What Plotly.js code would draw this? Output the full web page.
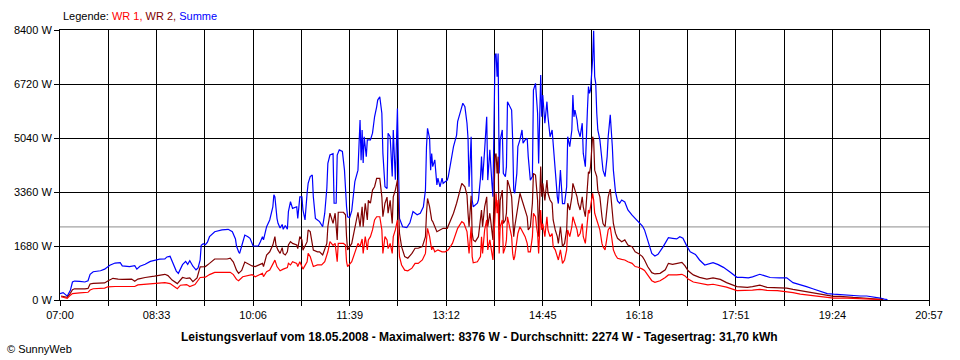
<!DOCTYPE html>
<html>
<head>
<meta charset="utf-8">
<script src="https://cdn.plot.ly/plotly-3.0.1.min.js"></script>
<style>html,body{margin:0;padding:0;background:#fff;}#chart{width:960px;height:360px;}</style>
</head>
<body>
<div id="chart"></div>
<script>
// ---------- data ----------
const day = '2008-05-18';
const xTickLabels = ['07:00','08:33','10:06','11:39','13:12','14:45','16:18','17:51','19:24','20:57'];
const yTicks = [0, 1680, 3360, 5040, 6720, 8400];
const averageW = 2274;

const summeTime = [
'07:00','07:03','07:07','07:10','07:12','07:14','07:19','07:24','07:27','07:29',
'07:32','07:39','07:43','07:48','07:53','07:58','08:00','08:07','08:12','08:14',
'08:17','08:22','08:27','08:31','08:36','08:41','08:43','08:46','08:49','08:52',
'08:54','08:58','09:01','09:03','09:05','09:08','09:11','09:13','09:15','09:16',
'09:18','09:20','09:22','09:24','09:29','09:36','09:42','09:46','09:49','09:50',
'09:52','09:53','09:55','09:58','10:01','10:03','10:06','10:11','10:13','10:15',
'10:16','10:19','10:22','10:25','10:26','10:27','10:29','10:30','10:32','10:34',
'10:35','10:37','10:39','10:40','10:42','10:44','10:48','10:49','10:51','10:53',
'10:54','10:56','10:58','10:59','11:01','11:03','11:04','11:06','11:08','11:10',
'11:13','11:15','11:17','11:18','11:20','11:23','11:24','11:26','11:27','11:29',
'11:32','11:34','11:36','11:37','11:39','11:41','11:44','11:47','11:49','11:50',
'11:51','11:52','11:53','11:55','11:56','11:59','12:01','12:03','12:05','12:06',
'12:08','12:10','12:11','12:13','12:15','12:16','12:18','12:20','12:21','12:23',
'12:25','12:26','12:27','12:30','12:34','12:37','12:40','12:44','12:47','12:50',
'12:52','12:53','12:54','12:56','12:57','12:58','12:59','13:01','13:03','13:04',
'13:06','13:08','13:09','13:11','13:13','13:14','13:16','13:19','13:22','13:23',
'13:27','13:28','13:30','13:32','13:33','13:34','13:36','13:37','13:38','13:42',
'13:43','13:45','13:46','13:47','13:49','13:51','13:52','13:54','13:56','13:57',
'13:59','14:00','14:01','14:02','14:03','14:04','14:06','14:07','14:09','14:10',
'14:11','14:13','14:15','14:16','14:17','14:18','14:20','14:21','14:23','14:25',
'14:26','14:28','14:30','14:31','14:33','14:35','14:36','14:38','14:39','14:40',
'14:41','14:43','14:44','14:45','14:47','14:49','14:50','14:52','14:54','14:55',
'14:57','14:59','15:00','15:02','15:04','15:06','15:08','15:09','15:11','15:13',
'15:14','15:15','15:16','15:18','15:19','15:21','15:23','15:24','15:26','15:28',
'15:29','15:30','15:31','15:33','15:34','15:35','15:36','15:37','15:38','15:40',
'15:42','15:43','15:45','15:47','15:48','15:50','15:52','15:53','15:55','15:57',
'15:59','16:01','16:04','16:07','16:11','16:14','16:17','16:21','16:23','16:26',
'16:30','16:33','16:36','16:41','16:46','16:50','16:54','16:57','17:00','17:04',
'17:07','17:12','17:16','17:21','17:26','17:29','17:34','17:39','17:45','17:52',
'17:57','18:03','18:07','18:14','18:19','18:24','18:33','18:40','18:46','18:53',
'18:59','19:05','19:12','19:19','19:25','19:31','19:38','19:44','19:51','19:57',
'20:03','20:07','20:10','20:14','20:17'];
const summe = [
200,230,120,300,560,590,580,560,600,800,
880,910,960,1080,1150,1160,1060,1040,1070,960,
1050,1110,1200,1230,1270,1280,1340,1360,1150,900,
830,1100,1200,1110,1220,1050,940,1000,1250,1700,
1750,1720,1800,1970,2125,2180,2200,2125,1900,1680,
1500,1450,1680,2020,1970,1920,1680,1680,1815,1970,
1870,2280,2490,2900,3270,3210,2540,2385,2240,2350,
2200,2320,2200,2750,3060,2850,2900,2540,3210,3210,
2800,2490,3320,3630,3840,3890,3210,2540,2490,2440,
2280,2700,3475,4250,4510,4550,3010,3010,4510,4670,
4620,4040,2900,2590,2560,2780,3680,4040,5600,4350,
5290,4260,5080,4460,4980,4980,5190,5700,6010,6220,
6325,5810,4570,3525,3470,5190,5080,3840,5290,3740,
5960,3420,2540,2280,2250,2400,2750,2650,2700,2900,
3420,4770,5340,5030,4040,4560,4150,4360,3580,3790,
3520,3790,3630,3680,3730,3840,4250,4770,5130,5550,
6010,6120,6010,5500,5030,3525,5080,3110,2900,3010,
3110,3800,4460,3730,4670,5700,3730,4670,3630,3215,
7600,7670,6950,7670,3940,4980,5290,3940,3840,4150,
6170,6010,5910,4980,3420,3320,3940,4770,4980,5290,
4880,4980,5030,4460,3730,3840,6530,6740,6325,5810,
4250,7000,5700,6380,5500,6170,5700,5080,5290,4770,
4040,3210,3000,4040,3000,3000,3525,5080,4770,5290,
6380,5700,5910,5600,5290,5080,5500,4560,4150,5910,
6640,6430,6540,7470,8376,6950,6740,5810,5290,4980,
4250,4040,3840,4460,5080,5760,4770,4040,3370,3080,
3010,3110,3050,2800,2640,2540,2430,2300,2180,1870,
1450,1370,1420,1660,1940,1920,1900,1970,1920,1660,
1500,1420,1245,1090,1120,1160,1100,1015,880,705,
705,690,720,800,750,700,690,690,540,480,
415,350,265,200,180,165,140,130,125,125,
105,80,60,30,10];

const wr2Time = [
'07:01','07:03','07:07','07:10','07:12','07:14','07:19','07:24','07:27','07:29',
'07:32','07:39','07:43','07:46','07:51','07:56','08:00','08:09','08:12','08:15',
'08:22','08:31','08:41','08:44','08:48','08:53','08:56','08:58','09:02','09:05',
'09:08','09:12','09:15','09:20','09:24','09:29','09:41','09:44','09:47','09:50',
'09:52','09:55','09:58','10:01','10:05','10:08','10:11','10:15','10:16','10:19',
'10:22','10:25','10:27','10:28','10:30','10:32','10:34','10:35','10:37','10:39',
'10:40','10:42','10:44','10:48','10:49','10:51','10:53','10:54','10:58','10:59',
'11:01','11:04','11:08','11:10','11:13','11:17','11:18','11:20','11:23','11:25',
'11:27','11:28','11:33','11:35','11:36','11:37','11:41','11:44','11:47','11:49',
'11:51','11:52','11:54','11:56','11:57','11:59','12:01','12:03','12:05','12:08',
'12:10','12:11','12:13','12:15','12:16','12:18','12:20','12:21','12:23','12:25',
'12:26','12:27','12:29','12:32','12:35','12:39','12:42','12:45','12:49','12:52',
'12:53','12:54','12:56','12:58','12:59','13:01','13:03','13:06','13:09','13:13',
'13:16','13:19','13:22','13:25','13:27','13:30','13:32','13:33','13:34','13:36',
'13:37','13:38','13:40','13:43','13:45','13:46','13:47','13:49','13:51','13:52',
'13:54','13:56','13:57','13:59','14:00','14:01','14:02','14:03','14:04','14:06',
'14:07','14:09','14:10','14:11','14:13','14:15','14:16','14:17','14:18','14:20',
'14:21','14:23','14:25','14:26','14:28','14:30','14:31','14:33','14:35','14:36',
'14:38','14:39','14:40','14:41','14:43','14:44','14:45','14:47','14:49','14:50',
'14:52','14:54','14:55','14:57','14:59','15:00','15:02','15:04','15:06','15:08',
'15:09','15:11','15:13','15:14','15:16','15:18','15:19','15:21','15:23','15:24',
'15:26','15:28','15:29','15:30','15:31','15:33','15:34','15:35','15:37','15:38',
'15:40','15:42','15:43','15:45','15:47','15:48','15:50','15:52','15:53','15:55',
'15:57','16:01','16:04','16:07','16:11','16:14','16:17','16:21','16:23','16:26',
'16:30','16:33','16:38','16:43','16:46','16:50','16:54','16:59','17:02','17:05',
'17:10','17:16','17:23','17:29','17:36','17:42','17:52','18:02','18:07','18:14',
'18:21','18:31','18:40','18:46','18:53','19:02','19:12','19:19','19:25','19:31',
'19:38','19:44','19:51','20:00','20:07','20:13'];
const wr2 = [
125,110,80,210,320,350,340,345,360,500,
520,530,530,590,675,650,640,650,580,650,
700,740,800,760,620,510,640,700,670,690,
570,690,1030,1040,1140,1275,1275,1300,1180,930,
830,920,1180,1120,1060,1040,1080,1140,1040,1400,
1500,1710,1970,1710,1550,1450,1630,1450,1400,1500,
1710,1815,1760,1710,1600,1970,1870,1550,1815,2180,
2130,1550,1500,1500,1400,1760,2280,2700,2385,2700,
1870,2730,2730,2650,1970,1555,1760,2280,2730,2280,
2900,2280,3010,2490,3100,3010,3420,3525,3785,3785,
3210,2590,3010,3200,2700,3100,2380,3210,3420,3730,
2800,2075,1660,1350,1300,1450,1610,1610,1660,1970,
2700,3160,2900,2490,2440,2280,2125,2180,2230,2230,
2440,2700,3010,3350,3630,3520,3260,2700,2280,3240,
2070,1870,1820,1970,2500,2800,2280,2900,3210,2280,
2700,2070,1870,4460,4560,3940,4460,2180,3110,3420,
2380,2490,2700,3730,3520,3210,2590,1970,2280,2700,
2900,3320,3110,3010,2800,2590,2180,2280,3010,3940,
3890,3520,3100,1970,4150,3210,3630,3100,3730,3320,
3110,3010,2490,2180,1970,1760,2280,1660,1760,2180,
3010,2800,3210,3630,3420,3210,3010,2800,3210,2900,
2590,3630,3990,3940,4150,5080,4980,4040,3840,3420,
3210,2590,2380,2280,3010,3210,3450,2800,2380,2080,
1920,1815,1870,1710,1660,1500,1450,1350,1245,1040,
850,810,830,940,1140,1110,1140,1170,1060,910,
780,705,650,690,640,540,415,395,415,460,
395,385,370,330,290,230,180,130,115,115,
90,80,70,60,30,10];

const wr1Time = [
'07:01','07:03','07:07','07:10','07:12','07:19','07:27','07:29','07:32','07:43',
'07:46','07:53','08:12','08:15','08:27','08:33','08:41','08:46','08:49','08:53',
'08:56','09:02','09:05','09:10','09:15','09:20','09:24','09:29','09:44','09:47',
'09:50','09:52','09:56','10:00','10:05','10:08','10:11','10:15','10:16','10:19',
'10:22','10:25','10:27','10:29','10:32','10:35','10:39','10:40','10:42','10:44',
'10:48','10:49','10:51','10:54','10:58','10:59','11:01','11:04','11:08','11:12',
'11:15','11:18','11:20','11:23','11:25','11:27','11:28','11:33','11:35','11:36',
'11:37','11:41','11:44','11:47','11:49','11:51','11:52','11:54','11:56','11:57',
'11:59','12:01','12:03','12:05','12:08','12:10','12:11','12:13','12:15','12:16',
'12:18','12:20','12:21','12:23','12:25','12:26','12:27','12:29','12:32','12:35',
'12:39','12:42','12:45','12:49','12:52','12:53','12:54','12:56','12:58','12:59',
'13:01','13:04','13:08','13:11','13:14','13:18','13:20','13:23','13:27','13:29',
'13:32','13:33','13:34','13:36','13:37','13:38','13:42','13:45','13:46','13:47',
'13:49','13:51','13:52','13:54','13:56','13:57','14:00','14:01','14:02','14:03',
'14:04','14:06','14:07','14:09','14:10','14:11','14:13','14:15','14:16','14:17',
'14:18','14:20','14:21','14:23','14:26','14:28','14:30','14:31','14:33','14:35',
'14:36','14:38','14:39','14:40','14:41','14:43','14:44','14:45','14:47','14:49',
'14:50','14:52','14:54','14:55','14:57','14:59','15:00','15:02','15:04','15:06',
'15:08','15:09','15:11','15:13','15:14','15:16','15:18','15:19','15:21','15:23',
'15:24','15:26','15:28','15:29','15:30','15:31','15:33','15:34','15:35','15:37',
'15:38','15:40','15:42','15:43','15:45','15:47','15:48','15:50','15:52','15:53',
'15:55','15:57','16:01','16:04','16:07','16:11','16:14','16:17','16:21','16:23',
'16:26','16:30','16:33','16:38','16:43','16:46','16:54','16:59','17:02','17:05',
'17:10','17:16','17:24','17:29','17:36','17:42','17:52','18:02','18:07','18:14',
'18:21','18:31','18:40','18:46','18:53','19:02','19:12','19:19','19:25','19:38',
'19:46','19:53','20:03','20:10'];
const wr1 = [
100,90,50,150,200,220,240,310,350,370,
410,420,420,470,500,520,540,510,430,350,
460,480,420,480,700,710,790,860,860,790,
640,600,725,760,790,725,760,830,725,880,
930,1140,1240,1040,910,960,1010,1140,1090,1190,
1140,1040,1190,960,1190,1450,1350,1040,1090,1090,
1190,1500,1815,1700,1760,1190,1760,1760,1710,1190,
1040,1190,1450,1760,1660,1900,1450,1970,1555,1870,
1970,2180,2490,2590,2590,2180,1450,1970,1870,1600,
1760,1450,1970,2180,2490,1760,1350,1090,930,910,
990,1140,1140,1245,1450,1870,2230,1970,1560,1660,
1500,1560,1500,1500,1560,1760,1970,2230,2440,2390,
2130,1870,1450,2280,1350,1160,1190,1350,1970,1450,
2180,2490,1560,1870,1450,1245,3320,2700,3110,1450,
2280,2490,1450,1660,1870,2590,2280,1970,1450,1245,
1350,1760,2070,2280,2070,1970,1760,1500,1500,1970,
2700,2590,2280,2070,1450,2800,2180,2380,1970,2590,
2180,1970,2070,1660,1560,1350,1245,1560,1140,1245,
1560,2180,1970,2280,2590,2380,2180,1970,2070,2380,
1970,1760,2380,2800,2700,2900,3320,3110,2700,2490,
2380,2180,1760,1660,1560,2070,2180,2280,1870,1560,
1400,1300,1265,1245,1190,1140,1040,1020,960,920,
780,600,550,600,700,780,780,800,750,650,
560,520,470,490,450,400,290,290,310,330,
300,290,260,230,180,140,100,70,60,60,
50,40,30,15];

// ---------- helpers ----------
function ts(hhmm) { return day + ' ' + hhmm; }
function toMin(hhmm) { const p = hhmm.split(':'); return (+p[0]) * 60 + (+p[1]); }
function fromMin(m) {
  const h = Math.floor(m / 60), mm = Math.floor(m % 60), s = Math.round((m % 1) * 60);
  const pad = n => String(n).padStart(2, '0');
  return day + ' ' + pad(h) + ':' + pad(mm) + ':' + pad(s);
}

// x ticks: labelled ticks plus an unlabelled grid tick half-way between
const xTickVals = [], xTickText = [];
xTickLabels.forEach((lab, i) => {
  xTickVals.push(fromMin(toMin(lab)));
  xTickText.push(lab);
  if (i < xTickLabels.length - 1) {
    xTickVals.push(fromMin((toMin(lab) + toMin(xTickLabels[i + 1])) / 2));
    xTickText.push('');
  }
});

const FONT = 'Liberation Sans, Arial, sans-serif';

const traces = [
  { x: summeTime.map(ts), y: summe, type: 'scatter', mode: 'lines', name: 'Summe',
    line: { color: '#0000FF', width: 1.2 } },
  { x: wr2Time.map(ts), y: wr2, type: 'scatter', mode: 'lines', name: 'WR 2',
    line: { color: '#800000', width: 1.2 } },
  { x: wr1Time.map(ts), y: wr1, type: 'scatter', mode: 'lines', name: 'WR 1',
    line: { color: '#FF0000', width: 1.2 } }
];

const layout = {
  width: 960, height: 360,
  margin: { l: 60, r: 31, t: 30, b: 60, pad: 0 },
  paper_bgcolor: '#FFFFFF', plot_bgcolor: '#FFFFFF',
  showlegend: false,
  font: { family: FONT, size: 11, color: '#000' },
  xaxis: {
    type: 'date',
    range: [ts(xTickLabels[0]), ts(xTickLabels[xTickLabels.length - 1])],
    tickmode: 'array', tickvals: xTickVals, ticktext: xTickText,
    ticks: 'outside', ticklen: 5, tickcolor: '#000', tickwidth: 1,
    showgrid: true, gridcolor: '#000', gridwidth: 1,
    showline: true, linecolor: '#000', linewidth: 1, mirror: true,
    zeroline: false, tickfont: { family: FONT, size: 11, color: '#000' }
  },
  yaxis: {
    range: [0, yTicks[yTicks.length - 1]],
    tickmode: 'array', tickvals: yTicks, ticktext: yTicks.map(v => v + ' W'),
    ticks: 'outside', ticklen: 5, tickcolor: '#000', tickwidth: 1,
    showgrid: true, gridcolor: '#000', gridwidth: 1,
    showline: true, linecolor: '#000', linewidth: 1, mirror: true,
    zeroline: false, tickfont: { family: FONT, size: 11, color: '#000' }
  },
  shapes: [
    { type: 'line', xref: 'paper', x0: 0, x1: 1, yref: 'y', y0: averageW, y1: averageW,
      line: { color: '#8C8C8C', width: 1 }, layer: 'below' }
  ],
  annotations: [
    { xref: 'paper', yref: 'paper', x: 0.001, y: 1.052, xanchor: 'left', yanchor: 'middle',
      showarrow: false, font: { family: FONT, size: 11, color: '#000' },
      text: 'Legende: <span style="color:#FF0000">WR 1,</span> <span style="color:#800000">WR 2,</span> <span style="color:#0000FF">Summe</span>' },
    { xref: 'paper', yref: 'paper', x: 0.4833, y: -0.137, xanchor: 'center', yanchor: 'middle',
      showarrow: false, font: { family: FONT, size: 12, color: '#000' },
      text: '<b>Leistungsverlauf vom 18.05.2008 - Maximalwert: 8376 W - Durchschnitt: 2274 W - Tagesertrag: 31,70 kWh</b>' },
    { xref: 'paper', yref: 'paper', x: -0.0633, y: -0.1815, xanchor: 'left', yanchor: 'middle',
      showarrow: false, font: { family: FONT, size: 11, color: '#000' },
      text: '© SunnyWeb' }
  ]
};

Plotly.newPlot('chart', traces, layout, { staticPlot: true, displayModeBar: false });
</script>
</body>
</html>
